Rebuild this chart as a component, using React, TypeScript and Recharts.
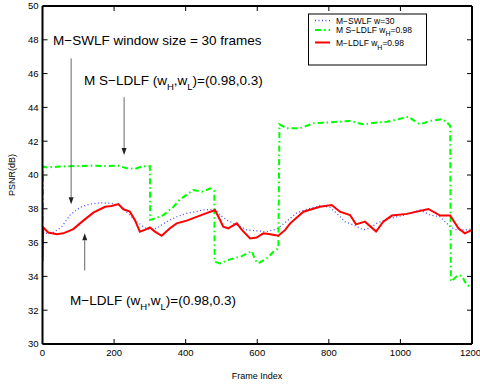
import React from 'react';
import { LineChart, Line, XAxis, YAxis, ReferenceLine } from 'recharts';

// frame index / PSNR readings for each method
const swlfFrames = [0, 12, 30, 54, 77, 105, 133, 161, 193, 212, 230, 244, 263, 282, 300, 319, 347, 375, 403, 449, 482, 496, 515, 543, 571, 598, 627, 654, 682, 710, 738, 775, 803, 827, 845, 869, 896, 915, 934, 962, 999, 1027, 1055, 1083, 1111, 1139, 1157, 1180, 1200];
const swlfPsnr = [36.6, 36.55, 36.6, 36.94, 37.63, 38.09, 38.28, 38.36, 38.32, 38.22, 37.93, 37.63, 37.24, 36.94, 36.75, 36.85, 37.24, 37.53, 37.73, 37.93, 37.97, 37.63, 37.34, 37.04, 36.75, 36.7, 36.65, 36.8, 37.25, 37.75, 37.98, 38.18, 38.09, 37.63, 37.24, 37.04, 36.75, 36.85, 37.14, 37.38, 37.57, 37.73, 37.93, 37.63, 37.53, 36.94, 36.75, 36.75, 36.8];

const msldlfFrames = [0, 2, 12, 49, 96, 142, 179, 212, 235, 258, 277, 300, 301, 314, 338, 366, 384, 421, 449, 468, 477, 480, 481, 496, 524, 557, 585, 594, 603, 627, 645, 659, 662, 682, 719, 757, 794, 827, 859, 896, 934, 962, 994, 1022, 1036, 1055, 1083, 1115, 1129, 1139, 1141, 1162, 1172, 1185, 1200];
const msldlfPsnr = [37.2, 40.5, 40.45, 40.5, 40.53, 40.55, 40.53, 40.55, 40.4, 40.36, 40.5, 40.53, 37.34, 37.43, 37.63, 38.12, 38.55, 39.11, 39.01, 39.21, 39.11, 39.05, 34.87, 34.77, 35.01, 35.2, 35.5, 34.97, 34.77, 35.07, 35.46, 35.66, 43.0, 42.76, 42.76, 43.06, 43.1, 43.15, 43.2, 43.0, 43.1, 43.15, 43.3, 43.45, 43.25, 43.0, 43.2, 43.3, 43.15, 42.9, 33.7, 34.08, 34.02, 33.5, 33.35];

const ldlfFrames = [0, 2, 16, 40, 58, 86, 114, 142, 175, 193, 212, 226, 244, 258, 272, 291, 300, 314, 333, 356, 375, 403, 449, 482, 496, 505, 519, 543, 557, 580, 598, 617, 636, 659, 678, 692, 729, 775, 808, 831, 859, 876, 901, 932, 952, 976, 1018, 1078, 1111, 1139, 1162, 1180, 1200];
const ldlfPsnr = [34.9, 36.9, 36.6, 36.5, 36.55, 36.8, 37.3, 37.77, 38.12, 38.17, 38.28, 37.97, 37.83, 37.34, 36.65, 36.8, 36.9, 36.65, 36.4, 36.85, 37.14, 37.3, 37.67, 37.93, 37.34, 36.94, 36.84, 37.14, 36.75, 36.25, 36.3, 36.55, 36.49, 36.41, 36.75, 37.14, 37.83, 38.12, 38.22, 37.83, 37.63, 37.08, 37.24, 36.65, 37.24, 37.6, 37.7, 37.99, 37.6, 37.6, 36.85, 36.55, 36.75];

const xTicks = [0, 200, 400, 600, 800, 1000, 1200];
const yTicks = [30, 32, 34, 36, 38, 40, 42, 44, 46, 48, 50];

// annotation arrows: frame, start psnr, tip psnr
const arrowFrames = [80, 228, 118];
const arrowFrom = [46.9, 44.6, 34.35];
const arrowTo = [38.27, 41.18, 36.55];

const zip = (f: number[], v: number[]) => f.map((frame, i) => ({ frame, psnr: v[i] }));

const FONT = '"Liberation Sans", Arial, Helvetica, sans-serif';
const TICK_LEN = 5;

const Arrow = (props: any) => {
  const { x1, y1, x2, y2 } = props;
  const dir = Math.sign(y2 - y1);
  const head = 7;
  const w = 2.5;
  return (
    <g>
      <line x1={x1} y1={y1} x2={x2} y2={y2 - dir * head} stroke="#666" strokeWidth={1} />
      <polygon points={`${x2 - w},${y2 - dir * head} ${x2 + w},${y2 - dir * head} ${x2},${y2}`} fill="#222" />
    </g>
  );
};

// inward tick on the far side (top / right) of the box
const FarTick = (props: any) => {
  const { x1, y1, x2, y2 } = props;
  if (Math.abs(x1 - x2) < 0.01) {
    const top = Math.min(y1, y2);
    return <line x1={x1} x2={x1} y1={top} y2={top + TICK_LEN} stroke="#000" strokeWidth={1} />;
  }
  const right = Math.max(x1, x2);
  return <line x1={right} x2={right - TICK_LEN} y1={y1} y2={y1} stroke="#000" strokeWidth={1} />;
};

export default function App() {
  const tickStyle = { fontSize: 9.5, fill: '#000', fontFamily: FONT };
  const axisStroke = { stroke: '#000', strokeWidth: 2 };
  return (
    <div style={{ position: 'absolute', left: 0, top: 0, width: 480, height: 387, background: '#fff' }}>
      {/* text layer underneath: annotations, legend, axis titles */}
      <svg width={480} height={387} style={{ position: 'absolute', left: 0, top: 0 }} fontFamily={FONT}>
        <text x={53} y={45} fontSize={13.5}>M−SWLF window size = 30 frames</text>
        <text x={84} y={85} fontSize={13.5}>
          M S−LDLF (w<tspan dy={5} fontSize={9.5}>H</tspan><tspan dy={-5}>,w</tspan><tspan dy={5} fontSize={9.5}>L</tspan><tspan dy={-5}>)=(0.98,0.3)</tspan>
        </text>
        <text x={70} y={305} fontSize={13.5}>
          M−LDLF (w<tspan dy={5} fontSize={9.5}>H</tspan><tspan dy={-5}>,w</tspan><tspan dy={5} fontSize={9.5}>L</tspan><tspan dy={-5}>)=(0.98,0.3)</tspan>
        </text>

        <rect x={308.5} y={14} width={118} height={51} fill="#fff" stroke="#000" strokeWidth={1} />
        <line x1={315} x2={330} y1={20.5} y2={20.5} stroke="#4a4aff" strokeWidth={1.3} strokeDasharray="1 2.5" />
        <line x1={315} x2={330} y1={30} y2={30} stroke="#00ff00" strokeWidth={2} strokeDasharray="6 3 1.5 3" />
        <line x1={315} x2={330} y1={42.5} y2={42.5} stroke="#ff0000" strokeWidth={2} />
        <text x={336} y={24} fontSize={8.5}>M−SWLF w=30</text>
        <text x={336} y={33} fontSize={8.5}>
          M S−LDLF w<tspan dy={3} fontSize={7}>H</tspan><tspan dy={-3}>=0.98</tspan>
        </text>
        <text x={336} y={46} fontSize={8.5}>
          M−LDLF w<tspan dy={4} fontSize={7}>H</tspan><tspan dy={-4}>=0.98</tspan>
        </text>

        <text x={257} y={379} fontSize={9} textAnchor="middle">Frame Index</text>
        <text x={15} y={175} fontSize={9} textAnchor="middle" transform="rotate(-90 15 175)">PSNR(dB)</text>
      </svg>

      <div style={{ position: 'absolute', left: 0, top: 0 }}>
        <LineChart width={480} height={387} margin={{ top: 6, right: 8, bottom: 0, left: 0 }}>
          <Line
            data={zip(swlfFrames, swlfPsnr)}
            dataKey="psnr"
            type="linear"
            stroke="#4a4aff"
            strokeWidth={1.3}
            strokeDasharray="1 2.5"
            dot={false}
            isAnimationActive={false}
          />
          <Line
            data={zip(msldlfFrames, msldlfPsnr)}
            dataKey="psnr"
            type="linear"
            stroke="#00ff00"
            strokeWidth={2}
            strokeDasharray="6 3 1.5 3"
            dot={false}
            isAnimationActive={false}
          />
          <Line
            data={zip(ldlfFrames, ldlfPsnr)}
            dataKey="psnr"
            type="linear"
            stroke="#ff0000"
            strokeWidth={2}
            dot={false}
            isAnimationActive={false}
          />
          {arrowFrames.map((f, i) => (
            <ReferenceLine
              key={`ar${i}`}
              segment={[{ x: f, y: arrowFrom[i] }, { x: f, y: arrowTo[i] }]}
              shape={Arrow}
              ifOverflow="visible"
            />
          ))}
          {xTicks.map((t) => (
            <ReferenceLine key={`xt${t}`} x={t} shape={FarTick} ifOverflow="visible" />
          ))}
          {yTicks.map((t) => (
            <ReferenceLine key={`yt${t}`} y={t} shape={FarTick} ifOverflow="visible" />
          ))}
          <ReferenceLine x={1200} stroke="#000" strokeWidth={2} ifOverflow="visible" />
          <ReferenceLine y={50} stroke="#000" strokeWidth={2} ifOverflow="visible" />
          <XAxis
            dataKey="frame"
            type="number"
            domain={[0, 1200]}
            ticks={xTicks}
            allowDataOverflow
            height={43}
            tickSize={-5}
            tickMargin={10}
            tick={tickStyle}
            axisLine={axisStroke}
            tickLine={{ stroke: '#000', strokeWidth: 1 }}
          />
          <YAxis
            type="number"
            domain={[30, 50]}
            ticks={yTicks}
            allowDataOverflow
            width={42.5}
            tickSize={-5}
            tickMargin={9}
            tick={tickStyle}
            axisLine={axisStroke}
            tickLine={{ stroke: '#000', strokeWidth: 1 }}
          />
        </LineChart>
      </div>
    </div>
  );
}
